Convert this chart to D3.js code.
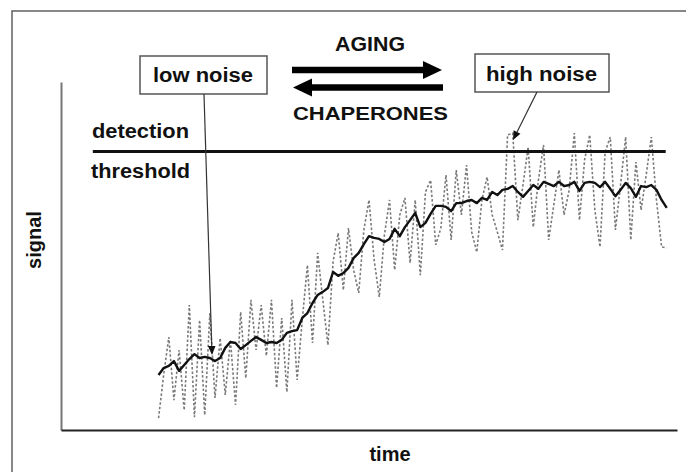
<!DOCTYPE html>
<html>
<head>
<meta charset="utf-8">
<script src="https://cdn.jsdelivr.net/npm/d3@7"></script>
<style>
  html, body { margin: 0; padding: 0; background: #ffffff; }
  svg { display: block; }
  text { font-family: "Liberation Sans", Arial, sans-serif; font-weight: bold; fill: #111; }
</style>
</head>
<body>
<svg id="chart" width="686" height="472"></svg>
<script>
// ---- data ----
const timeStart = 19, timeEnd = 118;           // sample indices along the time axis
const sampleTimes = d3.range(timeStart, timeEnd + 1);

// low-noise signal (solid black)
const lowNoiseSignal = [
  15.8, 17.8, 18.4, 19.8, 17.0, 18.7, 20.4, 21.8, 20.7, 21.0,
  20.7, 19.8, 20.7, 23.6, 25.3, 25.0, 23.3, 24.4, 25.6, 26.7,
  25.9, 25.0, 25.3, 25.0, 25.9, 27.9, 28.4, 28.7, 32.2, 33.6,
  36.5, 38.8, 39.7, 40.8, 45.4, 44.3, 45.1, 46.6, 49.4, 50.9,
  53.4, 55.7, 55.2, 54.9, 54.0, 54.9, 57.8, 55.7, 58.3, 60.3,
  62.4, 58.3, 59.5, 62.1, 64.4, 64.4, 64.1, 62.9, 65.2, 65.2,
  65.8, 66.1, 65.2, 66.7, 66.1, 68.4, 67.5, 69.0, 69.3, 70.1,
  68.4, 67.0, 68.7, 70.4, 69.3, 71.3, 70.7, 70.1, 71.3, 70.1,
  70.4, 71.3, 68.7, 71.0, 71.3, 71.0, 69.8, 71.3, 69.3, 67.2,
  69.0, 71.0, 69.5, 67.0, 70.1, 69.8, 70.4, 69.0, 66.1, 63.8
];

// high-noise signal (dotted grey)
const highNoiseSignal = [
  3.4, 15.8, 26.7, 8.6, 23.0, 5.7, 35.9, 3.7, 31.6, 4.3,
  33.6, 9.2, 26.4, 10.1, 25.9, 7.2, 33.9, 14.9, 37.4, 23.0,
  35.9, 21.3, 37.4, 12.1, 32.2, 10.9, 37.4, 14.4, 31.6, 47.4,
  25.0, 50.9, 37.4, 24.4, 48.3, 56.6, 40.2, 58.0, 46.0, 39.4,
  57.5, 66.1, 48.9, 38.2, 56.0, 66.1, 46.0, 61.8, 66.7, 48.0,
  66.1, 44.5, 68.4, 71.8, 53.2, 58.0, 73.3, 54.6, 74.7, 61.8,
  76.1, 56.9, 51.1, 66.1, 72.7, 61.8, 56.9, 51.7, 84.8, 85.3,
  60.3, 70.4, 81.3, 58.3, 71.8, 81.9, 54.6, 64.7, 74.7, 61.8,
  69.0, 85.3, 60.3, 77.6, 84.8, 63.2, 52.6, 79.9, 84.2, 57.5,
  70.4, 84.2, 54.6, 77.0, 63.2, 73.3, 84.2, 66.1, 52.6, 52.3
];

const detectionThreshold = 80;
const thresholdSpan = [6.2, 117.8];

const labels = {
  xTitle: "time",
  yTitle: "signal",
  low: "low noise",
  high: "high noise",
  aging: "AGING",
  chaperones: "CHAPERONES",
  det1: "detection",
  det2: "threshold"
};

// ---- drawing ----
const svg = d3.select("#chart");

const x = d3.scaleLinear().domain([0, 120]).range([61, 677]);
const y = d3.scaleLinear().domain([0, 100]).range([430, 82]);

// outer frame (extends past the right and bottom edges)
svg.append("rect")
  .attr("x", 12).attr("y", 11).attr("width", 720).attr("height", 520)
  .attr("fill", "none").attr("stroke", "#6a6a6a").attr("stroke-width", 1.6);

// axes (no ticks)
const yAxis = svg.append("g").attr("transform", `translate(${x(0)},0)`)
  .call(d3.axisLeft(y).ticks(0).tickSizeOuter(0));
yAxis.select(".domain").attr("stroke", "#777").attr("stroke-width", 2);

const xAxis = svg.append("g").attr("transform", `translate(0,${y(0)})`)
  .call(d3.axisBottom(x).ticks(0).tickSizeOuter(0));
xAxis.select(".domain").attr("stroke", "#222").attr("stroke-width", 2);

// series
const lowData = sampleTimes.map((t, i) => ({ t, v: lowNoiseSignal[i] }));
const highData = sampleTimes.map((t, i) => ({ t, v: highNoiseSignal[i] }));
const line = d3.line().x(d => x(d.t)).y(d => y(d.v));

svg.append("path").datum(highData)
  .attr("d", line)
  .attr("fill", "none")
  .attr("stroke", "#7a7a7a")
  .attr("stroke-width", 1.6)
  .attr("stroke-dasharray", "2.5,2");

svg.append("path").datum(lowData)
  .attr("d", line)
  .attr("fill", "none")
  .attr("stroke", "#111")
  .attr("stroke-width", 2.4)
  .attr("stroke-linejoin", "round");

// detection threshold
svg.append("line")
  .attr("x1", x(thresholdSpan[0])).attr("x2", x(thresholdSpan[1]))
  .attr("y1", y(detectionThreshold)).attr("y2", y(detectionThreshold))
  .attr("stroke", "#111").attr("stroke-width", 3);

svg.append("text").attr("x", 92).attr("y", 138).attr("font-size", 20)
  .attr("textLength", 97).attr("lengthAdjust", "spacingAndGlyphs").text(labels.det1);
svg.append("text").attr("x", 91).attr("y", 178).attr("font-size", 20)
  .attr("textLength", 99).attr("lengthAdjust", "spacingAndGlyphs").text(labels.det2);

// axis titles
svg.append("text").attr("x", 390).attr("y", 461).attr("font-size", 20)
  .attr("text-anchor", "middle").text(labels.xTitle);
svg.append("text").attr("transform", "translate(41,240) rotate(-90)")
  .attr("font-size", 20).attr("text-anchor", "middle").text(labels.yTitle);

// annotation boxes
function box(x0, y0, w, h) {
  svg.append("rect").attr("x", x0).attr("y", y0).attr("width", w).attr("height", h)
    .attr("fill", "#fff").attr("stroke", "#555").attr("stroke-width", 1.5);
}
box(140, 56, 127, 38);
svg.append("text").attr("x", 153).attr("y", 82).attr("font-size", 20)
  .attr("textLength", 100).attr("lengthAdjust", "spacingAndGlyphs").text(labels.low);
box(475, 54, 134, 38);
svg.append("text").attr("x", 486).attr("y", 81).attr("font-size", 20)
  .attr("textLength", 111).attr("lengthAdjust", "spacingAndGlyphs").text(labels.high);

// pointer lines with small arrowheads
function pointer(x1, y1, x2, y2) {
  const ang = Math.atan2(y2 - y1, x2 - x1);
  const L = 9, W = 3.8;
  const bx = x2 - L * Math.cos(ang), by = y2 - L * Math.sin(ang);
  svg.append("line").attr("x1", x1).attr("y1", y1).attr("x2", bx).attr("y2", by)
    .attr("stroke", "#333").attr("stroke-width", 1.2);
  const px = -Math.sin(ang) * W, py = Math.cos(ang) * W;
  svg.append("path")
    .attr("d", `M${x2},${y2}L${bx + px},${by + py}L${bx - px},${by - py}Z`)
    .attr("fill", "#111");
}
pointer(204, 94, 212, 355);
pointer(537, 92, 513, 140);

// big AGING / CHAPERONES arrows
function bigArrow(xTail, xTip, yc) {
  const dir = Math.sign(xTip - xTail);
  const headLen = 19, headHalf = 9, shaftHalf = 3.2;
  const xb = xTip - dir * headLen;
  svg.append("path")
    .attr("d", `M${xTail},${yc - shaftHalf}L${xb},${yc - shaftHalf}L${xb},${yc - headHalf}` +
               `L${xTip},${yc}L${xb},${yc + headHalf}L${xb},${yc + shaftHalf}L${xTail},${yc + shaftHalf}Z`)
    .attr("fill", "#000");
}
bigArrow(292, 442, 70);
bigArrow(443, 293, 87.5);

svg.append("text").attr("x", 370).attr("y", 51).attr("font-size", 21)
  .attr("text-anchor", "middle").attr("textLength", 70).attr("lengthAdjust", "spacingAndGlyphs")
  .text(labels.aging);
svg.append("text").attr("x", 293).attr("y", 120).attr("font-size", 19)
  .attr("textLength", 155).attr("lengthAdjust", "spacingAndGlyphs").text(labels.chaperones);
</script>
</body>
</html>
